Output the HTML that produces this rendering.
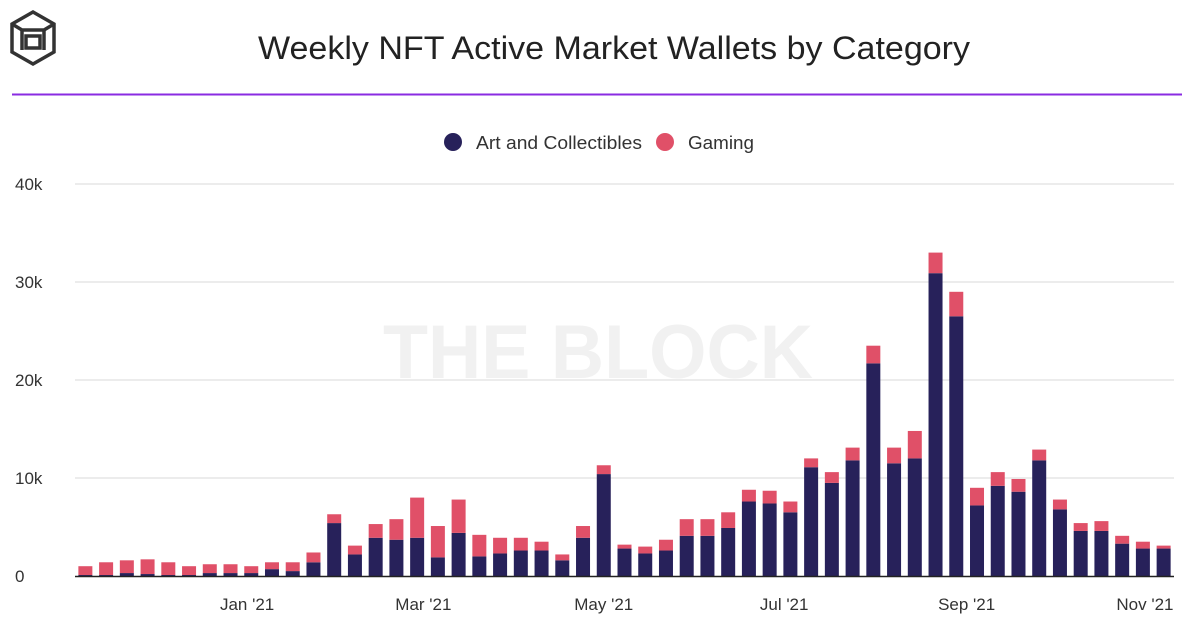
<!DOCTYPE html>
<html><head><meta charset="utf-8"><style>
body{margin:0;background:#fff;font-family:"Liberation Sans",sans-serif;}
svg{display:block}
</style></head><body>
<svg id="c" width="1200" height="629">
<g fill="none" stroke="#333" stroke-width="3.5">
<polygon points="33,12 54,24 54,52 33,64 12,52 12,24"/>
<polyline points="12,24 22,30 44,30 54,24"/><line x1="22" y1="30" x2="22" y2="50"/><line x1="44" y1="30" x2="44" y2="50"/>
<rect x="26" y="36" width="14" height="12"/>
</g>
<text x="258" y="59" textLength="712" lengthAdjust="spacingAndGlyphs" font-size="32" fill="#222">Weekly NFT Active Market Wallets by Category</text>
<line x1="12" y1="94.5" x2="1182" y2="94.5" stroke="#8a2be2" stroke-width="2"/>
<g font-size="18" fill="#333">
<g><circle cx="453" cy="142" r="9" fill="#27215a"/><text x="476" y="149" textLength="166" lengthAdjust="spacingAndGlyphs">Art and Collectibles</text></g>
<g><circle cx="665" cy="142" r="9" fill="#e05068"/><text x="688" y="149" textLength="66" lengthAdjust="spacingAndGlyphs">Gaming</text></g>
</g>
<text x="383" y="378" textLength="430" lengthAdjust="spacingAndGlyphs" font-size="76" font-weight="bold" fill="#f1f1f1">THE BLOCK</text>
<g id="grid"></g><g id="bars"></g><g id="axes"></g>
</svg>
<script>
const art=[0.1,0.1,0.3,0.2,0.1,0.1,0.3,0.3,0.3,0.7,0.5,1.4,5.4,2.2,3.9,3.7,3.9,1.9,4.4,2.0,2.3,2.6,2.6,1.6,3.9,10.4,2.8,2.3,2.6,4.1,4.1,4.9,7.6,7.4,6.5,11.1,9.5,11.8,21.7,11.5,12.0,30.9,26.5,7.2,9.2,8.6,11.8,6.8,4.6,4.6,3.3,2.8,2.8];
const gaming=[0.9,1.3,1.3,1.5,1.3,0.9,0.9,0.9,0.7,0.7,0.9,1.0,0.9,0.9,1.4,2.1,4.1,3.2,3.4,2.2,1.6,1.3,0.9,0.6,1.2,0.9,0.4,0.7,1.1,1.7,1.7,1.6,1.2,1.3,1.1,0.9,1.1,1.3,1.8,1.6,2.8,2.1,2.5,1.8,1.4,1.3,1.1,1.0,0.8,1.0,0.8,0.7,0.3];
const yTicks=[0,10,20,30,40];
const yTickLabels=["0","10k","20k","30k","40k"];
const xTickPos=[7.8,16.3,25.0,33.7,42.5,51.1];
const xTickLabels=["Jan '21","Mar '21","May '21","Jul '21","Sep '21","Nov '21"];
const NS="http://www.w3.org/2000/svg";
const x0=75,x1=1174,yb=576,yt=184,ymax=40;
const step=(x1-x0)/art.length;
const xc=i=>x0+step*(i+0.5);
const y=v=>yb-(v/ymax)*(yb-yt);
function mk(t,a,p){const e=document.createElementNS(NS,t);for(const k in a)e.setAttribute(k,a[k]);document.getElementById(p).appendChild(e);return e;}
yTicks.forEach((v,i)=>{
 if(v>0){const l=mk('line',{x1:x0,x2:x1,y1:y(v),y2:y(v),stroke:'#e6e6e6','stroke-width':1.5},'grid');
 
 }
 const t=mk('text',{x:15,y:y(v)+6,'font-size':17,fill:'#333'},'axes');t.textContent=yTickLabels[i];
 
 
});
const bw=14;
art.forEach((a,i)=>{
 const g=gaming[i];
 const r1=mk('rect',{x:xc(i)-bw/2,y:y(a),width:bw,height:yb-y(a),fill:'#27215a'},'bars');
 
 
 const r2=mk('rect',{x:xc(i)-bw/2,y:y(a+g),width:bw,height:y(a)-y(a+g),fill:'#e05068'},'bars');
 
 
});
const ax=mk('line',{x1:x0,x2:x1,y1:yb+0.5,y2:yb+0.5,stroke:'#222','stroke-width':1.5},'axes');


xTickPos.forEach((p,i)=>{
 const t=mk('text',{x:xc(p),y:610,'text-anchor':'middle','font-size':17,fill:'#333'},'axes');t.textContent=xTickLabels[i];
 
 
});
</script>
</body></html>
